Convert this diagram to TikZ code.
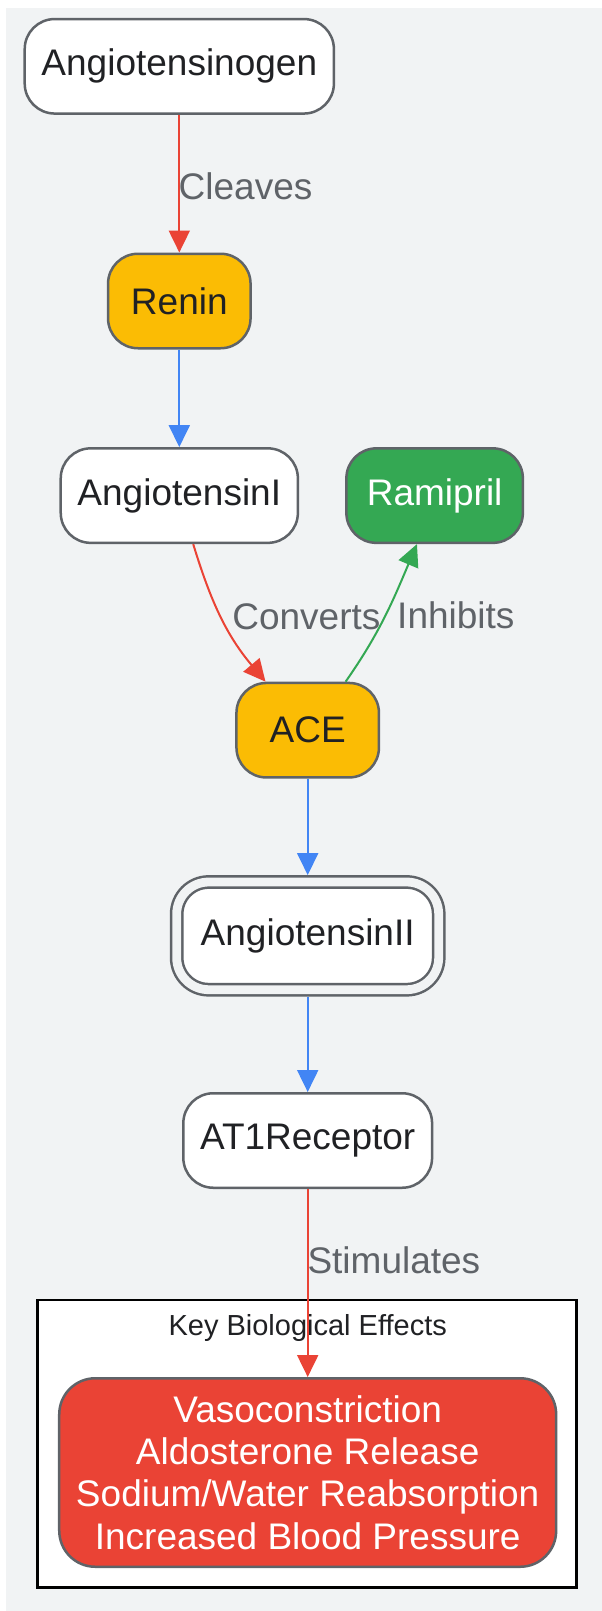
\documentclass[tikz,border=0pt]{standalone}
\usepackage{fontspec}
\setmainfont{Liberation Sans}
\usepackage{tikz}
\usetikzlibrary{positioning}
\usetikzlibrary{arrows.meta,calc,backgrounds}
\definecolor{bgcol}{HTML}{F1F3F4}
\definecolor{linegray}{HTML}{5F6368}
\definecolor{txtcol}{HTML}{202124}
\definecolor{enzcol}{HTML}{FBBC04}
\definecolor{drugcol}{HTML}{34A853}
\definecolor{redcol}{HTML}{EA4335}
\definecolor{bluecol}{HTML}{4285F4}
\tikzset{
    raas/.style={>={Triangle[length=22pt,width=21pt]},line width=2pt,
                     font=\fontsize{37}{42.4}\selectfont},
    mol/.style={rectangle, rounded corners=30pt, draw=linegray, line width=2.5pt,
                     fill=white, text=txtcol, minimum width=142.5pt,
                     minimum height=94.5pt, inner xsep=16.75pt},
    enzyme/.style={mol, fill=enzcol},
    drug/.style={mol, fill=drugcol, text=white, minimum width=176.5pt},
    active/.style={mol, double=bgcol, double distance=8.8pt, rounded corners=32pt,
                     outer sep=6.9pt, minimum width=262pt, minimum height=107.7pt},
    effect/.style={mol, fill=redcol, text=white, align=center, rounded corners=36pt,
                     minimum width=495.5pt, minimum height=188.5pt},
    cluster/.style={draw=black, line width=2.5pt, fill=white},
    elabel/.style={text=linegray, inner sep=0pt},
    stim/.style={draw=redcol},
    flow/.style={draw=bluecol},
    inhib/.style={draw=drugcol},
    }

\begin{document}
\begin{tikzpicture}[raas]
            \useasboundingbox (0,0) rectangle (602pt,-1611pt);

            \node[mol] (ang) at (179.3pt,-66.3pt) {Angiotensinogen};
            \node[enzyme] (renin) [below=137.7pt of ang] {Renin};
            \node[mol] (angI) [below=97.6pt of renin] {AngiotensinI};
            \node[drug] (rami) [right=46pt of angI] {Ramipril};
            \node[enzyme] (ace) [below=137.6pt of angI, xshift=128.4pt] {ACE};
            \node[active] (angII) [below=96.4pt of ace] {AngiotensinII};
            \node[mol] (at1) [below=95.4pt of angII] {AT1Receptor};
            \node[effect] (eff) [below=188pt of at1]
                {Vasoconstriction\\Aldosterone Release\\Sodium/Water Reabsorption\\Increased Blood Pressure};
            \node[text=txtcol, font=\fontsize{29}{34}\selectfont]
                (title) [above=49.3pt of eff.north, anchor=center] {Key Biological Effects};

            \begin{scope}[on background layer]
                \fill[bgcol] (6pt,-8pt) rectangle (602pt,-1611pt);
                \draw[cluster] ($(eff.south west)+(-20.35pt,-19.25pt)$)
                    rectangle ($(eff.north east)+(19.25pt,76.85pt)$);
            \end{scope}

            \path[->] (ang) edge[stim] node[elabel, pos=.52, right=-1.6pt] {Cleaves} (renin);
            \path[->] (renin) edge[flow] (angI);
            \path[->] (angI.-74) edge[stim, out=-73, in=130]
                node[elabel, pos=.5, right=10pt] {Converts} (ace.131);
            \path[->] (ace.52) edge[inhib, out=55, in=-113]
                node[elabel, pos=.5, right=10.8pt] {Inhibits} (rami.-110);
            \path[->] (ace) edge[flow] (angII);
            \path[->] (angII) edge[flow] (at1);
            \path[->] (at1) edge[stim] node[elabel, pos=.378, right=-1.2pt] {Stimulates} (eff);
        \end{tikzpicture}
\end{document}
